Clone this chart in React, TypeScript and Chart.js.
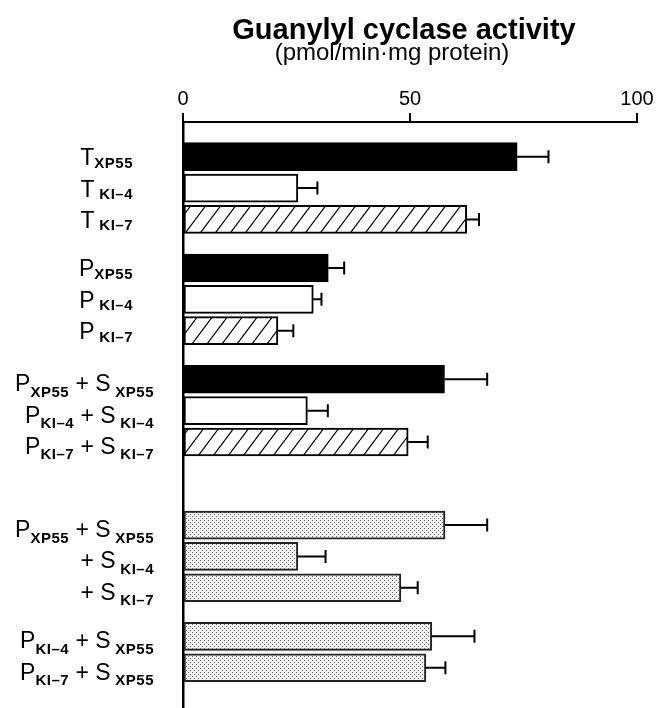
import { useEffect, useRef } from 'react';
import { Chart, registerables } from 'chart.js';

Chart.register(...registerables);

// ---- data ----
const labels = [
  'T_{XP55}',
  'T_{ KI–4}',
  'T_{ KI–7}',
  'P_{XP55}',
  'P_{ KI–4}',
  'P_{ KI–7}',
  'P_{XP55} + S_{ XP55}',
  'P_{KI–4} + S_{ KI–4}',
  'P_{KI–7} + S_{ KI–7}',
  'P_{XP55} + S_{ XP55}',
  '+ S_{ KI–4}',
  '+ S_{ KI–7}',
  'P_{KI–4} + S_{ XP55}',
  'P_{KI–7} + S_{ XP55}',
];
const groups = [0, 0, 0, 1, 1, 1, 2, 2, 2, 3, 3, 3, 4, 4];
const variants = ['XP55', 'KI-4', 'KI-7', 'XP55', 'KI-4', 'KI-7', 'XP55', 'KI-4', 'KI-7', 'XP55', 'KI-4', 'KI-7', 'KI-4', 'KI-7'];
const activity = [73.6, 25.3, 62.5, 32.0, 28.7, 20.9, 57.6, 27.4, 49.6, 57.7, 25.3, 48.0, 54.8, 53.5];
const sem = [6.9, 4.3, 2.7, 3.5, 1.8, 3.4, 9.4, 4.5, 4.3, 9.3, 6.1, 3.7, 9.4, 4.3];
const xTicks = [0, 50, 100];
const titleText = 'Guanylyl cyclase activity';
const subtitleText = '(pmol/min·mg protein)';

function makeHatch(): CanvasPattern | string {
  const c = document.createElement('canvas');
  c.width = 15;
  c.height = 20;
  const g = c.getContext('2d')!;
  g.fillStyle = '#fff';
  g.fillRect(0, 0, 15, 20);
  g.strokeStyle = '#000';
  g.lineWidth = 1.2;
  for (const dx of [-15, 0, 15]) {
    g.beginPath();
    g.moveTo(dx, 20);
    g.lineTo(dx + 15, 0);
    g.stroke();
  }
  return g.createPattern(c, 'repeat') || '#fff';
}

function makeDots(): CanvasPattern | string {
  const c = document.createElement('canvas');
  c.width = 4;
  c.height = 4;
  const g = c.getContext('2d')!;
  g.fillStyle = '#f2f2f2';
  g.fillRect(0, 0, 4, 4);
  g.fillStyle = '#666';
  g.fillRect(0, 0, 1, 1);
  g.fillRect(2, 2, 1, 1);
  return g.createPattern(c, 'repeat') || '#ddd';
}

function parseLabel(s: string) {
  const parts: { t: string; sub: boolean }[] = [];
  const re = /_\{([^}]*)\}/g;
  let last = 0;
  let m: RegExpExecArray | null;
  while ((m = re.exec(s))) {
    if (m.index > last) parts.push({ t: s.slice(last, m.index), sub: false });
    parts.push({ t: m[1], sub: true });
    last = m.index + m[0].length;
  }
  if (last < s.length) parts.push({ t: s.slice(last), sub: false });
  return parts;
}

const MAIN_FONT = '23px "Liberation Sans", Arial, sans-serif';
const SUB_FONT = 'bold 15px "Liberation Sans", Arial, sans-serif';

export default function App() {
  const ref = useRef<HTMLCanvasElement>(null);

  useEffect(() => {
    const canvas = ref.current!;
    const hatch = makeHatch();
    const dots = makeDots();

    const groupShift = [0, 0.55, 1.1, 2.75, 3.3];
    const positions = labels.map((_, i) => i + groupShift[groups[i]]);
    const fillFor = (i: number) => {
      if (groups[i] >= 3) return dots;
      if (variants[i] === 'XP55') return '#000';
      if (variants[i] === 'KI-4') return '#fff';
      return hatch;
    };

    const decor = {
      id: 'decor',
      afterDatasetsDraw(chart: any) {
        const ctx: CanvasRenderingContext2D = chart.ctx;
        const xs = chart.scales.x;
        const ys = chart.scales.y;
        ctx.save();
        ctx.strokeStyle = '#000';
        ctx.lineWidth = 2;
        positions.forEach((p, i) => {
          const y = ys.getPixelForValue(p);
          const x0 = xs.getPixelForValue(activity[i]);
          const x1 = xs.getPixelForValue(activity[i] + sem[i]);
          ctx.beginPath();
          ctx.moveTo(x0, y);
          ctx.lineTo(x1, y);
          ctx.moveTo(x1, y - 6.5);
          ctx.lineTo(x1, y + 6.5);
          ctx.stroke();
        });
        ctx.restore();
      },
      afterDraw(chart: any) {
        const ctx: any = chart.ctx;
        const ys = chart.scales.y;
        const area = chart.chartArea;
        ctx.save();
        ctx.fillStyle = '#000';
        // title
        const cx = (area.left + area.right) / 2;
        ctx.textAlign = 'center';
        ctx.textBaseline = 'alphabetic';
        ctx.font = 'bold 29px "Liberation Sans", Arial, sans-serif';
        ctx.fillText(titleText, cx - 6, 39);
        ctx.font = '24px "Liberation Sans", Arial, sans-serif';
        ctx.fillText(subtitleText, cx - 18, 60);
        // row labels
        ctx.textAlign = 'left';
        labels.forEach((lab, i) => {
          const compound = lab.includes('+');
          const yc = ys.getPixelForValue(positions[i]);
          const base = yc + (compound ? 12 : 8.5);
          const subDrop = compound ? 5.5 : 2.5;
          const right = area.left - (compound ? 29 : 50);
          const parts = parseLabel(lab);
          const widths = parts.map((pt) => {
            ctx.font = pt.sub ? SUB_FONT : MAIN_FONT;
            ctx.letterSpacing = pt.sub ? '0.5px' : '0px';
            return ctx.measureText(pt.t).width;
          });
          let x = right - widths.reduce((a, b) => a + b, 0);
          parts.forEach((pt, k) => {
            ctx.font = pt.sub ? SUB_FONT : MAIN_FONT;
            ctx.letterSpacing = pt.sub ? '0.5px' : '0px';
            ctx.fillText(pt.t, x, pt.sub ? base + subDrop : base);
            x += widths[k];
          });
        });
        ctx.letterSpacing = '0px';
        ctx.restore();
      },
    };

    const chart = new Chart(canvas, {
      type: 'bar',
      data: {
        datasets: [
          {
            data: positions.map((p, i) => ({ x: activity[i], y: p })),
            backgroundColor: labels.map((_, i) => fillFor(i)) as any,
            borderColor: labels.map((_, i) => (groups[i] >= 3 ? '#222' : '#000')),
            borderWidth: 2,
            borderSkipped: false,
            barThickness: 28,
          },
        ],
      },
      options: {
        indexAxis: 'y',
        animation: false,
        responsive: false,
        events: [],
        layout: { padding: { top: 62, left: 183, right: 24, bottom: 0 } },
        plugins: {
          legend: { display: false },
          tooltip: { enabled: false },
          title: { display: false },
        },
        scales: {
          x: {
            type: 'linear',
            position: 'top',
            min: 0,
            max: 100,
            afterBuildTicks: (scale: any) => {
              scale.ticks = xTicks.map((v) => ({ value: v }));
            },
            afterFit: (scale: any) => {
              scale.height = 60;
            },
            ticks: {
              color: '#000',
              padding: 2,
              font: { family: '"Liberation Sans", Arial, sans-serif', size: 20 },
            },
            grid: {
              drawOnChartArea: false,
              drawTicks: true,
              tickLength: 9,
              color: '#000',
              lineWidth: 2,
            },
            border: { display: true, color: '#000', width: 2 },
          },
          y: {
            type: 'linear',
            reverse: true,
            offset: false,
            bounds: 'data',
            grace: 0,
            min: -1.107,
            max: 17.585,
            afterFit: (scale: any) => {
              scale.width = 0;
            },
            ticks: { display: false },
            grid: { display: false, drawTicks: false, drawOnChartArea: false, offset: false },
            border: { display: true, color: '#000', width: 2.5 },
          },
        },
      },
      plugins: [decor],
    } as any);

    return () => chart.destroy();
  }, []);

  return (
    <div style={{ position: 'absolute', left: 0, top: 0, width: 661, height: 708, background: '#fff' }}>
      <canvas ref={ref} width={661} height={708} style={{ width: 661, height: 708, display: 'block' }} />
    </div>
  );
}
